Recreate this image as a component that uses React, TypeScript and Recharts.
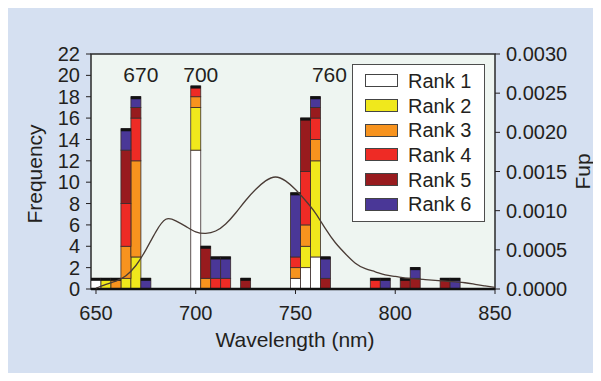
import React from 'react';
import {
  ComposedChart, Bar, Line, XAxis, YAxis, Legend, ReferenceArea,
  ReferenceLine, ReferenceDot, CartesianGrid,
} from 'recharts';

const wavelengths = [650, 655, 660, 665, 670, 675, 680, 685, 690, 695, 700, 705, 710, 715, 720, 725, 730, 735, 740, 745, 750, 755, 760, 765, 770, 775, 780, 785, 790, 795, 800, 805, 810, 815, 820, 825, 830, 835, 840, 845, 850];
const rank1 = [1, 0, 0, 0, 0, 0, 0, 0, 0, 0, 13, 0, 0, 0, 0, 0, 0, 0, 0, 0, 1, 2, 3, 0, 0, 0, 0, 0, 0, 0, 0, 0, 0, 0, 0, 0, 0, 0, 0, 0, 0];
const rank2 = [0, 1, 0, 1, 3, 0, 0, 0, 0, 0, 4, 0, 0, 0, 0, 0, 0, 0, 0, 0, 0, 2, 9, 0, 0, 0, 0, 0, 0, 0, 0, 0, 0, 0, 0, 0, 0, 0, 0, 0, 0];
const rank3 = [0, 0, 1, 3, 9, 0, 0, 0, 0, 0, 1, 1, 0, 0, 0, 0, 0, 0, 0, 0, 1, 2, 2, 0, 0, 0, 0, 0, 0, 0, 0, 0, 0, 0, 0, 0, 0, 0, 0, 0, 0];
const rank4 = [0, 0, 0, 4, 4, 0, 0, 0, 0, 0, 1, 0, 1, 1, 0, 0, 0, 0, 0, 0, 1, 5, 2, 0, 0, 0, 0, 0, 1, 0, 0, 0, 0, 0, 0, 0, 0, 0, 0, 0, 0];
const rank5 = [0, 0, 0, 5, 1, 0, 0, 0, 0, 0, 0, 3, 0, 0, 0, 1, 0, 0, 0, 0, 0, 5, 1, 1, 0, 0, 0, 0, 0, 0, 0, 1, 1, 0, 0, 1, 0, 0, 0, 0, 0];
const rank6 = [0, 0, 0, 2, 1, 1, 0, 0, 0, 0, 0, 0, 2, 2, 0, 0, 0, 0, 0, 0, 6, 0, 1, 2, 0, 0, 0, 0, 0, 1, 0, 0, 1, 0, 0, 0, 1, 0, 0, 0, 0];
const fup = [0.00001, 0.00006, 0.00010, 0.00017, 0.00030, 0.00050, 0.00073, 0.00089, 0.00087, 0.00080, 0.00073, 0.00071, 0.00074, 0.00083, 0.00097, 0.00113, 0.00127, 0.00138, 0.00143, 0.00138, 0.00127, 0.00113, 0.00097, 0.00077, 0.00059, 0.00045, 0.00033, 0.00026, 0.00022, 0.00018, 0.00016, 0.00014, 0.00013, 0.00012, 0.00011, 0.00010, 0.00009, 0.00008, 0.00006, 0.00004, 0.00002];

const xTicks = [650, 700, 750, 800, 850];
const leftTicks = [0, 2, 4, 6, 8, 10, 12, 14, 16, 18, 20, 22];
const rightTicks = [0, 0.0005, 0.001, 0.0015, 0.002, 0.0025, 0.003];
const rankKeys = ['r1', 'r2', 'r3', 'r4', 'r5', 'r6'];
const rankNames = ['Rank 1', 'Rank 2', 'Rank 3', 'Rank 4', 'Rank 5', 'Rank 6'];
const rankColors = ['#ffffff', '#f0e81c', '#f7931e', '#ee2b25', '#981b1e', '#4a3797'];
const peakLabels = ['670', '700', '760'];
const peakLabelX = [672.5, 702.5, 767];
const peakLabelY = 20.1;

const rankSeries = [rank1, rank2, rank3, rank4, rank5, rank6];
const data = wavelengths.map((w, i) => {
  const row: any = { wl: w, fup: fup[i] };
  rankKeys.forEach((k, j) => { row[k] = rankSeries[j][i]; });
  return row;
});

const FONT = '"Liberation Sans", Arial, Helvetica, sans-serif';
const INK = '#231f20';

const makeShape = (k: number) => (props: any) => {
  const { x, y, width, height, fill, payload } = props;
  if (!height || height <= 0) return <g />;
  const isTop = rankKeys.slice(k + 1).every((key) => !payload[key]);
  return (
    <g>
      <rect x={x} y={y} width={width} height={height} fill={fill} stroke="#3a2c2c" strokeWidth={0.8} />
      {isTop && <rect x={x} y={y - 0.5} width={width} height={3} fill="#111" />}
    </g>
  );
};

const renderLegend = (props: any) => {
  const items = (props.payload || []).filter((p: any) => p.type !== 'none');
  return (
    <div style={{ boxSizing: 'border-box', width: 133, height: 158, background: '#fff', border: '1px solid #4d4d4d', paddingTop: 3.5 }}>
      {items.map((it: any, i: number) => (
        <div key={i} style={{ display: 'flex', alignItems: 'center', height: 24.7 }}>
          <div style={{ boxSizing: 'border-box', marginLeft: 12, width: 33, height: 13, background: it.color, border: '1px solid #444' }} />
          <span style={{ marginLeft: 10, fontFamily: FONT, fontSize: 20, color: INK, lineHeight: '20px' }}>{it.value}</span>
        </div>
      ))}
    </div>
  );
};

export default function App() {
  return (
    <div style={{ width: 593, height: 365, background: '#d5e0f1' }}>
      <ComposedChart width={593} height={365} data={data} margin={{ top: 46, right: 0, bottom: 0, left: 0 }} barCategoryGap={0} barGap={0}>
        <CartesianGrid horizontal={false} vertical={false} fill="#eef5f1" yAxisId="left" />
        <XAxis
          dataKey="wl" type="number" domain={[647.5, 850]} allowDataOverflow ticks={xTicks} interval={0}
          height={84} tickSize={5} tickMargin={12} axisLine={false}
          tickLine={{ stroke: INK }} tick={{ fontSize: 20, fill: INK, fontFamily: FONT }}
          label={{
            content: ({ viewBox }: any) => (
              <text x={viewBox.x + viewBox.width / 2 + 2} y={viewBox.y + 58} textAnchor="middle" fontSize={21} fill={INK} fontFamily={FONT}>Wavelength (nm)</text>
            ),
          }}
        />
        <YAxis
          yAxisId="left" domain={[0, 22]} ticks={leftTicks} interval={0} width={83}
          tickSize={5} tickMargin={6} axisLine={false}
          tickLine={{ stroke: INK }} tick={{ fontSize: 20, fill: INK, fontFamily: FONT }}
          label={{
            content: ({ viewBox }: any) => {
              const cx = viewBox.x + 34;
              const cy = viewBox.y + viewBox.height / 2 + 2.5;
              return <text x={cx} y={cy} transform={`rotate(-90, ${cx}, ${cy})`} textAnchor="middle" fontSize={21} fill={INK} fontFamily={FONT}>Frequency</text>;
            },
          }}
        />
        <YAxis
          yAxisId="right" orientation="right" domain={[0, 0.003]} ticks={rightTicks} interval={0} width={106}
          tickSize={5} tickMargin={6} axisLine={false}
          tickFormatter={(v: number) => v.toFixed(4)}
          tickLine={{ stroke: INK }} tick={{ fontSize: 20, fill: INK, fontFamily: FONT }}
          label={{
            content: ({ viewBox }: any) => {
              const cx = viewBox.x + 95;
              const cy = viewBox.y + viewBox.height / 2;
              return <text x={cx} y={cy} transform={`rotate(-90, ${cx}, ${cy})`} textAnchor="middle" fontSize={21} fill={INK} fontFamily={FONT}>Fup</text>;
            },
          }}
        />
        {rankKeys.map((k, j) => (
          <Bar key={k} dataKey={k} name={rankNames[j]} stackId="a" yAxisId="left" fill={rankColors[j]} shape={makeShape(j)} isAnimationActive={false} />
        ))}
        <ReferenceLine y={0} yAxisId="left" stroke="#111" strokeWidth={2.5} />
        <Line yAxisId="right" dataKey="fup" type="natural" stroke="#4a3c36" strokeWidth={1.3} dot={false} activeDot={false} isAnimationActive={false} legendType="none" />
        <ReferenceArea yAxisId="left" x1={647.5} x2={850} y1={0} y2={22} fill="none" stroke="#2a2a2a" strokeWidth={1.5} />
        {peakLabels.map((t, i) => (
          <ReferenceDot key={t} yAxisId="left" x={peakLabelX[i]} y={peakLabelY} r={1} fill="none" stroke="none"
            label={{ value: t, position: 'center', fontSize: 21, fill: INK, fontFamily: FONT }} />
        ))}
        <Legend layout="horizontal" verticalAlign="middle" align="center" content={renderLegend}
          wrapperStyle={{ left: 344, top: 56, width: 133, height: 158 }} />
      </ComposedChart>
    </div>
  );
}
